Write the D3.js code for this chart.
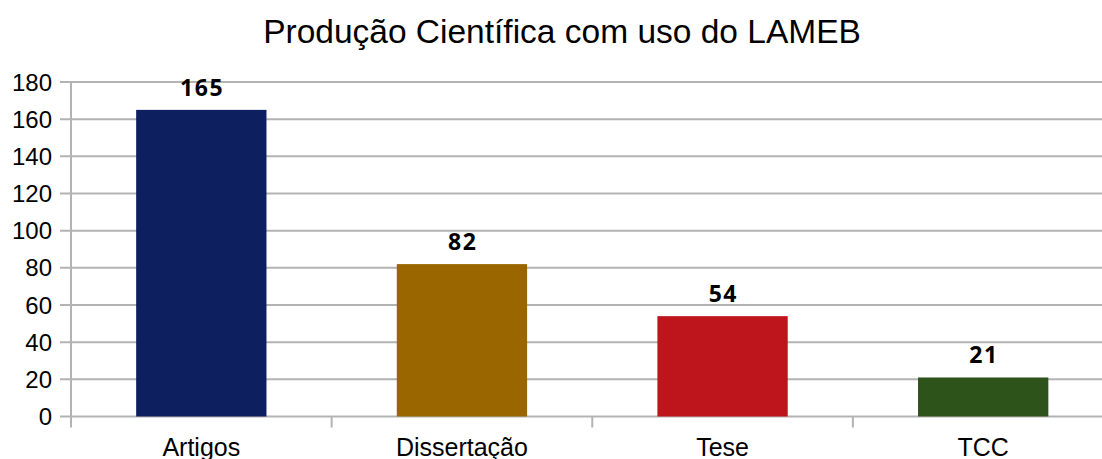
<!DOCTYPE html>
<html><head><meta charset="utf-8">
<script src="https://cdn.jsdelivr.net/npm/d3@7"></script>
<style>body{margin:0;background:#fff}svg{display:block}</style>
</head><body>
<script>
const categories = ["Artigos", "Dissertação", "Tese", "TCC"];
const values = [165, 82, 54, 21];
const colors = ["#0e1f5f", "#996600", "#be141c", "#2d521a"];
const yTicks = [0, 20, 40, 60, 80, 100, 120, 140, 160, 180];
const title = "Produção Científica com uso do LAMEB";

(function () {
const W = 1102, H = 459;
const pLeft = 71, pRight = 1113.5, pTop = 82, pBottom = 416.5;
const svg = d3.select("body").append("svg").attr("width", W).attr("height", H);

const x = d3.scaleBand().domain(categories).range([pLeft, pRight]).paddingInner(0.5).paddingOuter(0.25);
const y = d3.scaleLinear().domain([0, 180]).range([pBottom, pTop]);

svg.append("text").attr("x", 562).attr("y", 43).attr("text-anchor", "middle")
  .attr("font-family", "Liberation Sans, Arial, sans-serif").attr("font-size", 33.5).attr("fill", "#000").text(title);

// gridlines
svg.append("g").selectAll("line").data(yTicks).join("line")
  .attr("x1", pLeft - 11).attr("x2", pRight).attr("y1", d => y(d)).attr("y2", d => y(d))
  .attr("stroke", "#b3b3b3").attr("stroke-width", 2);

// y-axis line
svg.append("line").attr("x1", pLeft).attr("x2", pLeft).attr("y1", pTop).attr("y2", pBottom + 11)
  .attr("stroke", "#b3b3b3").attr("stroke-width", 2);

// category separator ticks
const bw = (pRight - pLeft) / categories.length;
svg.append("g").selectAll("line").data(d3.range(1, categories.length)).join("line")
  .attr("x1", d => pLeft + d * bw).attr("x2", d => pLeft + d * bw)
  .attr("y1", pBottom).attr("y2", pBottom + 11)
  .attr("stroke", "#b3b3b3").attr("stroke-width", 2);

// y tick labels
svg.append("g").selectAll("text").data(yTicks).join("text")
  .attr("x", 52).attr("y", d => y(d)).attr("dy", "0.36em").attr("text-anchor", "end")
  .attr("font-family", "Liberation Sans, Arial, sans-serif").attr("font-size", 24).attr("fill", "#000")
  .text(d => d);

// bars
svg.append("g").selectAll("rect").data(values).join("rect")
  .attr("x", (d, i) => x(categories[i])).attr("width", x.bandwidth())
  .attr("y", d => y(d)).attr("height", d => y(0) - y(d))
  .attr("fill", (d, i) => colors[i]);

// value labels
svg.append("g").selectAll("text").data(values).join("text")
  .attr("x", (d, i) => x(categories[i]) + x.bandwidth() / 2 + 0.75).attr("y", d => y(d) - 14)
  .attr("text-anchor", "middle").attr("font-family", "Open Sans, DejaVu Sans, sans-serif")
  .attr("font-weight", "bold").attr("font-size", 23).attr("letter-spacing", 1.5).attr("fill", "#000").text(d => d);

// category labels
svg.append("g").selectAll("text").data(categories).join("text")
  .attr("x", d => x(d) + x.bandwidth() / 2).attr("y", 456).attr("text-anchor", "middle")
  .attr("font-family", "Liberation Sans, Arial, sans-serif").attr("font-size", 25).attr("fill", "#000")
  .text(d => d);
})();
</script>
</body></html>
